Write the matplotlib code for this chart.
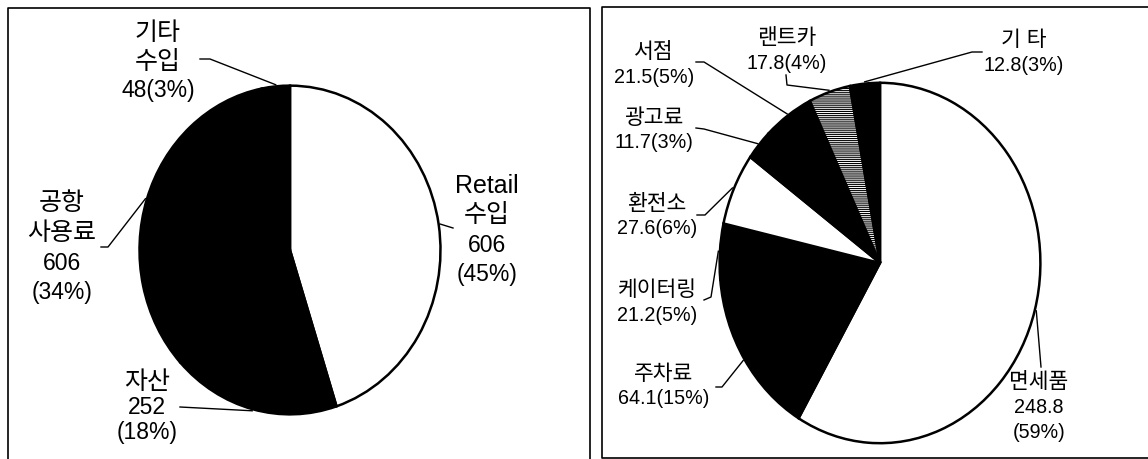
import numpy as np
import matplotlib
matplotlib.use("Agg")
import matplotlib.pyplot as plt

plt.rcParams['font.family'] = ['Liberation Sans', 'Noto Sans CJK KR', 'DejaVu Sans']
plt.rcParams['hatch.linewidth'] = 0.8

# 왼쪽: 수입 구성
left_labels = ["Retail\n수입", "자산", "공항\n사용료", "기타\n수입"]
left_values = ["606", "252", "606", "48"]
left_pct = [45, 18, 34, 3]
left_colors = ["white", "black", "black", "black"]

# 오른쪽: Retail 수입 구성
right_labels = ["면세품", "주차료", "케이터링", "환전소", "광고료", "서점", "랜트카", "기 타"]
right_values = [248.8, 64.1, 21.2, 27.6, 11.7, 21.5, 17.8, 12.8]
right_pct = [59, 15, 5, 6, 3, 5, 4, 3]
right_colors = ["white", "black", "black", "white", "black", "black", "white", "black"]
right_hatch = [None, None, None, None, None, None, "--------", None]

W, H = 1148, 459
fig = plt.figure(figsize=(W / 100, H / 100), dpi=100)
bg = fig.add_axes([0, 0, 1, 1])
bg.set_xlim(0, W)
bg.set_ylim(H, 0)
bg.axis("off")

# 패널 테두리
bg.plot([8, 8, 590, 590], [H, 8, 8, H], color="black", lw=1.2)
bg.plot([W, 602, 602, W], [7, 7, 458, 458], color="black", lw=1.2)


def draw_pie(cx, cy, rx, ry, sizes, colors, hatches=None):
    ax = fig.add_axes([(cx - rx) / W, 1 - (cy + ry) / H, 2 * rx / W, 2 * ry / H])
    wedges, _ = ax.pie(sizes, colors=colors, startangle=90, counterclock=False,
                       wedgeprops=dict(edgecolor="black", linewidth=1.8))
    if hatches:
        for w, h in zip(wedges, hatches):
            if h:
                w.set_hatch(h)
    ax.set_aspect("auto")
    ax.set_xlim(-1.01, 1.01)
    ax.set_ylim(-1.01, 1.01)
    # 각 조각 중앙의 테두리 위치 (픽셀)
    frac = np.array(sizes, dtype=float) / np.sum(sizes)
    mids = (np.cumsum(frac) - frac / 2) * 2 * np.pi
    return [(cx + rx * np.sin(a), cy - ry * np.cos(a)) for a in mids]


def leader(anchor, pts):
    xs = [anchor[0]] + [p[0] for p in pts]
    ys = [anchor[1]] + [p[1] for p in pts]
    bg.plot(xs, ys, color="black", lw=1.0)


def label(x, y0, pitch, name_lines, num_lines, ksize, nsize):
    y = y0
    for s in name_lines:
        bg.text(x, y, s, ha="center", va="center", fontsize=ksize)
        y += pitch
    for s in num_lines:
        bg.text(x, y, s, ha="center", va="center", fontsize=nsize)
        y += pitch


# 왼쪽 원
la = draw_pie(290, 250, 152, 166, left_pct, left_colors)
left_text = [(487, 186, 29.5), (147, 382, 25.5), (62, 203, 30), (158, 33, 29)]
left_lead = [[(453, 228)], [(180, 407)], [(108, 247), (101, 247)], [(210, 59), (200, 59)]]
for i in range(len(left_labels)):
    if i == 3:
        nums = [f"{left_values[i]}({left_pct[i]}%)"]
    else:
        nums = [left_values[i], f"({left_pct[i]}%)"]
    x, y0, p = left_text[i]
    label(x, y0, p, left_labels[i].split("\n"), nums, 18, 16.5)
    leader(la[i], left_lead[i])

# 오른쪽 원
ra = draw_pie(880, 263, 162, 182, right_values, right_colors, right_hatch)
right_text = [(1039, 383), (664, 374), (657, 291), (657, 204), (654, 118), (654, 53), (787, 39), (1024, 41)]
right_lead = [[(1041, 367)], [(722, 387), (716, 387)], [(711, 297), (704, 300)],
              [(705, 215), (697, 215)], [(704, 129), (696, 128)], [(704, 62), (696, 62)],
              [(787, 85), (786, 75)], [(972, 52), (982, 52)]]
for i in range(len(right_labels)):
    if i == 0:
        nums = [f"{right_values[i]}", f"({right_pct[i]}%)"]
    else:
        nums = [f"{right_values[i]}({right_pct[i]}%)"]
    x, y0 = right_text[i]
    label(x, y0, 24.5, [right_labels[i]], nums, 15.5, 14.2)
    leader(ra[i], right_lead[i])

fig.savefig("out.png", dpi=100)
